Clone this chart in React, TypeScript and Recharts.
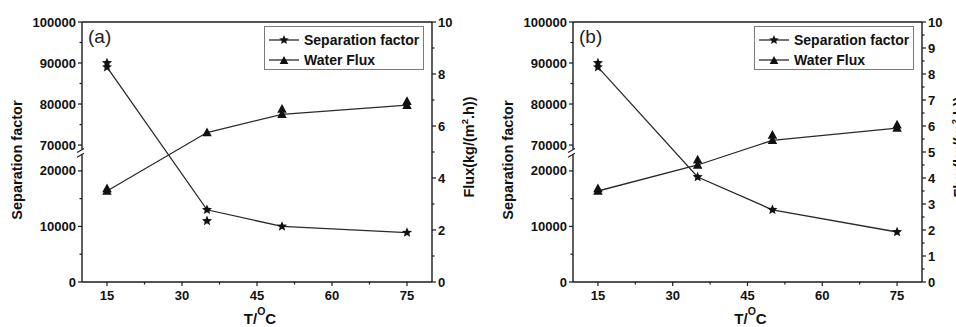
import React from 'react';
import { ComposedChart, Line, Scatter, XAxis, YAxis, Legend, ReferenceLine } from 'recharts';

// ---------- data ----------
const temperatures = [15, 35, 50, 75];

const sepFactorA = [89000, 13000, 10000, 8900];
const waterFluxA = [3.5, 5.75, 6.45, 6.8];
const sepFactorB = [89000, 18900, 13000, 9000];
const waterFluxB = [3.5, 4.5, 5.45, 5.92];

// repeated (overlapping) measurement markers
const sepRepeatTempsA = [15, 35];
const sepRepeatA = [90000, 11000];
const fluxRepeatTempsA = [15, 50, 75];
const fluxRepeatA = [3.6, 6.65, 6.95];
const sepRepeatTempsB = [15];
const sepRepeatB = [90000];
const fluxRepeatTempsB = [15, 35, 50, 75];
const fluxRepeatB = [3.6, 4.7, 5.65, 6.05];

const seriesNames = ['Separation factor', 'Water Flux'];
const panelTags = ['(a)', '(b)'];

const xTicksMajor = [15, 30, 45, 60, 75];
const xTicksMinor = [22.5, 37.5, 52.5, 67.5];
const sepTicksMajor = [0, 10000, 20000, 70000, 80000, 90000, 100000];
const sepTicksMinor = [5000, 15000, 75000, 85000, 95000];
const fluxTicksMajorA = [0, 2, 4, 6, 8, 10];
const fluxTicksMinorA = [1, 3, 5, 7, 9];
const fluxTicksMajorB = [0, 1, 2, 3, 4, 5, 6, 7, 8, 9, 10];
const fluxTicksMinorB = [0.5, 1.5, 2.5, 3.5, 4.5, 5.5, 6.5, 7.5, 8.5, 9.5];

// broken separation-factor axis: lower segment and upper segment each take half of the axis
const SEP_LOWER_MAX = 23400;
const SEP_UPPER_MIN = 68300;
const SEP_MAX = 100000;
const toBroken = (v: number) =>
  v <= SEP_LOWER_MAX
    ? (0.5 * v) / SEP_LOWER_MAX
    : 0.5 + (0.5 * (v - SEP_UPPER_MIN)) / (SEP_MAX - SEP_UPPER_MIN);

// ---------- styles ----------
const FONT = '"Liberation Sans", Arial, Helvetica, sans-serif';
const INK = '#111';
const AXIS = '#1a1a1a';
const LINE = '#2a2a2a';
const TICK_SIZE = 4;
const TICK_MARGIN = 2;
const CHART_W = 478;
const CHART_H = 327;

type Entry = { pos: number; kind: 'major' | 'minor' | 'break'; label?: string };

const buildEntries = (major: number[], minor: number[], map = (v: number) => v): Entry[] => [
  ...major.map((v) => ({ pos: map(v), kind: 'major' as const, label: String(v) })),
  ...minor.map((v) => ({ pos: map(v), kind: 'minor' as const })),
];

const xEntries = buildEntries(xTicksMajor, xTicksMinor);
const sepEntries: Entry[] = [...buildEntries(sepTicksMajor, sepTicksMinor, toBroken), { pos: 0.5, kind: 'break' }];
const fluxEntriesA = buildEntries(fluxTicksMajorA, fluxTicksMinorA);
const fluxEntriesB = buildEntries(fluxTicksMajorB, fluxTicksMinorB);

const findEntry = (entries: Entry[], value: number) => entries.find((e) => Math.abs(e.pos - value) < 1e-6);

const tickText = { fontFamily: FONT, fontWeight: 700, fontSize: 13, fill: INK } as const;

const makeTick = (side: 'left' | 'right' | 'bottom', entries: Entry[]) => (props: any) => {
  const { x, y, payload } = props;
  const e = findEntry(entries, payload.value);
  if (!e) return <g />;
  const len = e.kind === 'major' ? TICK_SIZE : 2.5;
  const off = TICK_SIZE + TICK_MARGIN;
  if (side === 'left') {
    const ax = x + off;
    if (e.kind === 'break') {
      return (
        <g>
          <rect x={ax - 2} y={y - 2.4} width={4} height={4.8} fill="#fff" />
          <line x1={ax - 5} y1={y + 0.4} x2={ax + 2} y2={y - 3.6} stroke={AXIS} strokeWidth={1.1} />
          <line x1={ax - 5} y1={y + 5.3} x2={ax + 2} y2={y + 1.3} stroke={AXIS} strokeWidth={1.1} />
        </g>
      );
    }
    return (
      <g>
        <line x1={ax - len} x2={ax} y1={y} y2={y} stroke={AXIS} strokeWidth={1.2} />
        {e.label && (
          <text x={x} y={y + 4.5} textAnchor="end" {...tickText}>
            {e.label}
          </text>
        )}
      </g>
    );
  }
  if (side === 'right') {
    const ax = x - off;
    return (
      <g>
        <line x1={ax} x2={ax + len} y1={y} y2={y} stroke={AXIS} strokeWidth={1.2} />
        {e.label && (
          <text x={x} y={y + 4.5} textAnchor="start" {...tickText}>
            {e.label}
          </text>
        )}
      </g>
    );
  }
  const ay = y - off;
  return (
    <g>
      <line x1={x} x2={x} y1={ay} y2={ay + len} stroke={AXIS} strokeWidth={1.2} />
      {e.label && (
        <text x={x} y={ay + 18} textAnchor="middle" {...tickText}>
          {e.label}
        </text>
      )}
    </g>
  );
};

const xTick = makeTick('bottom', xEntries);
const sepTick = makeTick('left', sepEntries);
const fluxTickA = makeTick('right', fluxEntriesA);
const fluxTickB = makeTick('right', fluxEntriesB);

// ---------- markers ----------
const starPath = (cx: number, cy: number, R: number) => {
  const r = R * 0.45;
  let d = '';
  for (let i = 0; i < 10; i++) {
    const a = ((-90 + i * 36) * Math.PI) / 180;
    const rad = i % 2 === 0 ? R : r;
    d += `${i === 0 ? 'M' : 'L'}${cx + rad * Math.cos(a)},${cy + rad * Math.sin(a)}`;
  }
  return d + 'Z';
};
const triPath = (cx: number, cy: number, s: number) =>
  `M${cx},${cy - s}L${cx + s * 0.95},${cy + s * 0.75}L${cx - s * 0.95},${cy + s * 0.75}Z`;

const StarDot = (p: any) =>
  p.cx == null ? <g key={`sd${p.index}`} /> : <path key={`sd${p.index}`} d={starPath(p.cx, p.cy, 5.3)} fill={INK} />;
const TriDot = (p: any) =>
  p.cx == null ? <g key={`td${p.index}`} /> : <path key={`td${p.index}`} d={triPath(p.cx, p.cy, 5)} fill={INK} />;
const StarShape = (p: any) => <path d={starPath(p.cx, p.cy, 5.3)} fill={INK} />;
const TriShape = (p: any) => <path d={triPath(p.cx, p.cy, 5)} fill={INK} />;

// ---------- labels ----------
const XTitle = (props: any) => {
  const { x, y, width } = props.viewBox;
  return (
    <text x={x + width / 2 + 3} y={y + 42} textAnchor="middle" fontFamily={FONT} fontWeight={700} fontSize={15} fill={INK}>
      <tspan>T/</tspan>
      <tspan dy={-9} fontSize={10.5}>O</tspan>
      <tspan dy={9}>C</tspan>
    </text>
  );
};

const SepTitle = (props: any) => {
  const { x, y, width } = props.viewBox;
  const bx = x + width - 60;
  const cy = y + 138;
  return (
    <text x={bx} y={cy} transform={`rotate(-90, ${bx}, ${cy})`} textAnchor="middle" fontFamily={FONT} fontWeight={700} fontSize={14.5} fill={INK}>
      Separation factor
    </text>
  );
};

const FluxTitle = (props: any) => {
  const { x, y } = props.viewBox;
  const bx = x + 42;
  const cy = y + 125;
  return (
    <text x={bx} y={cy} transform={`rotate(-90, ${bx}, ${cy})`} textAnchor="middle" fontFamily={FONT} fontWeight={700} fontSize={14.5} fill={INK}>
      <tspan>Flux(kg/(m</tspan>
      <tspan dy={-6} fontSize={9.5}>2</tspan>
      <tspan dy={6}>.h))</tspan>
    </text>
  );
};

const makeTagLabel = (tag: string) => (props: any) => {
  const { x, y } = props.viewBox;
  return (
    <text x={x + 6} y={y + 21} fontFamily={FONT} fontSize={19} fill="#222">
      {tag}
    </text>
  );
};

// ---------- legend ----------
const LegendIcon = ({ name }: { name: string }) => (
  <svg width={32} height={14} style={{ display: 'block' }}>
    <line x1={1} x2={31} y1={7} y2={7} stroke={LINE} strokeWidth={1.3} />
    {name === seriesNames[0] ? <path d={starPath(16, 7, 5)} fill={INK} /> : <path d={triPath(16, 7.5, 4.6)} fill={INK} />}
  </svg>
);

const LegendBox = (props: any) => {
  const items = seriesNames.filter((n) => (props.payload || []).some((p: any) => p.value === n));
  return (
    <div
      style={{
        boxSizing: 'border-box',
        width: 160,
        height: 44,
        border: '1px solid #7a7a7a',
        background: '#fff',
        paddingTop: 3,
        paddingLeft: 3,
        fontFamily: FONT,
        fontWeight: 700,
        fontSize: 14,
        color: INK,
      }}
    >
      {items.map((n) => (
        <div key={n} style={{ display: 'flex', alignItems: 'center', height: 20, whiteSpace: 'nowrap' }}>
          <LegendIcon name={n} />
          <span style={{ marginLeft: 4 }}>{n}</span>
        </div>
      ))}
    </div>
  );
};

// ---------- panel ----------
type PanelProps = {
  tag: string;
  sep: number[];
  flux: number[];
  sepRepT: number[];
  sepRep: number[];
  fluxRepT: number[];
  fluxRep: number[];
  fluxEntries: Entry[];
  fluxTick: (p: any) => any;
  leftWidth: number;
  rightWidth: number;
};

function Panel(p: PanelProps) {
  const rows = temperatures.map((t, i) => ({ T: t, sepV: toBroken(p.sep[i]), flux: p.flux[i] }));
  const sepRepRows = p.sepRepT.map((t, i) => ({ T: t, sepV: toBroken(p.sepRep[i]) }));
  const fluxRepRows = p.fluxRepT.map((t, i) => ({ T: t, flux: p.fluxRep[i] }));
  const axisLine = { stroke: AXIS, strokeWidth: 1.4 };
  const legendLeft = CHART_W - p.rightWidth - 8 - 160;
  const fluxMax = p.fluxEntries.reduce((m, e) => Math.max(m, e.pos), 0);
  return (
    <ComposedChart width={CHART_W} height={CHART_H} data={rows} margin={{ top: 22, right: 0, bottom: 0, left: 0 }}>
      <XAxis
        xAxisId="x"
        dataKey="T"
        type="number"
        domain={[10, 80]}
        allowDataOverflow
        ticks={xEntries.map((e) => e.pos)}
        interval={0}
        tick={xTick}
        tickLine={false}
        tickSize={TICK_SIZE}
        tickMargin={TICK_MARGIN}
        axisLine={axisLine}
        height={45}
        label={{ content: XTitle }}
      />
      <YAxis
        yAxisId="sep"
        dataKey="sepV"
        type="number"
        domain={[0, 1]}
        allowDataOverflow
        ticks={sepEntries.map((e) => e.pos)}
        interval={0}
        tick={sepTick}
        tickLine={false}
        tickSize={TICK_SIZE}
        tickMargin={TICK_MARGIN}
        axisLine={axisLine}
        width={p.leftWidth}
        label={{ content: SepTitle }}
      />
      <YAxis
        yAxisId="flux"
        orientation="right"
        dataKey="flux"
        type="number"
        domain={[0, 10]}
        allowDataOverflow
        ticks={p.fluxEntries.map((e) => e.pos)}
        interval={0}
        tick={p.fluxTick}
        tickLine={false}
        tickSize={TICK_SIZE}
        tickMargin={TICK_MARGIN}
        axisLine={axisLine}
        width={p.rightWidth}
        label={{ content: FluxTitle }}
      />
      <ReferenceLine
        xAxisId="x"
        yAxisId="flux"
        y={fluxMax}
        stroke={AXIS}
        strokeWidth={1.4}
        ifOverflow="visible"
        label={{ content: makeTagLabel(p.tag) }}
      />
      <Legend
        layout="horizontal"
        verticalAlign="middle"
        align="center"
        wrapperStyle={{ left: legendLeft, top: 26, width: 160, height: 44 }}
        content={LegendBox}
      />
      <Line
        xAxisId="x"
        yAxisId="sep"
        dataKey="sepV"
        name={seriesNames[0]}
        type="linear"
        stroke={LINE}
        strokeWidth={1.3}
        dot={StarDot}
        activeDot={false}
        isAnimationActive={false}
      />
      <Line
        xAxisId="x"
        yAxisId="flux"
        dataKey="flux"
        name={seriesNames[1]}
        type="linear"
        stroke={LINE}
        strokeWidth={1.3}
        dot={TriDot}
        activeDot={false}
        isAnimationActive={false}
      />
      <Scatter
        xAxisId="x"
        yAxisId="sep"
        data={sepRepRows}
        dataKey="sepV"
        name="sep-repeat"
        legendType="none"
        shape={StarShape}
        isAnimationActive={false}
      />
      <Scatter
        xAxisId="x"
        yAxisId="flux"
        data={fluxRepRows}
        dataKey="flux"
        name="flux-repeat"
        legendType="none"
        shape={TriShape}
        isAnimationActive={false}
      />
    </ComposedChart>
  );
}

export default function App() {
  return (
    <div style={{ position: 'absolute', left: 0, top: 0, width: 956, height: 327, background: '#fff', overflow: 'hidden' }}>
      <div style={{ position: 'absolute', left: 0, top: 0 }}>
        <Panel
          tag={panelTags[0]}
          sep={sepFactorA}
          flux={waterFluxA}
          sepRepT={sepRepeatTempsA}
          sepRep={sepRepeatA}
          fluxRepT={fluxRepeatTempsA}
          fluxRep={fluxRepeatA}
          fluxEntries={fluxEntriesA}
          fluxTick={fluxTickA}
          leftWidth={82}
          rightWidth={46}
        />
      </div>
      <div style={{ position: 'absolute', left: CHART_W, top: 0 }}>
        <Panel
          tag={panelTags[1]}
          sep={sepFactorB}
          flux={waterFluxB}
          sepRepT={sepRepeatTempsB}
          sepRep={sepRepeatB}
          fluxRepT={fluxRepeatTempsB}
          fluxRep={fluxRepeatB}
          fluxEntries={fluxEntriesB}
          fluxTick={fluxTickB}
          leftWidth={95}
          rightWidth={34}
        />
      </div>
    </div>
  );
}
